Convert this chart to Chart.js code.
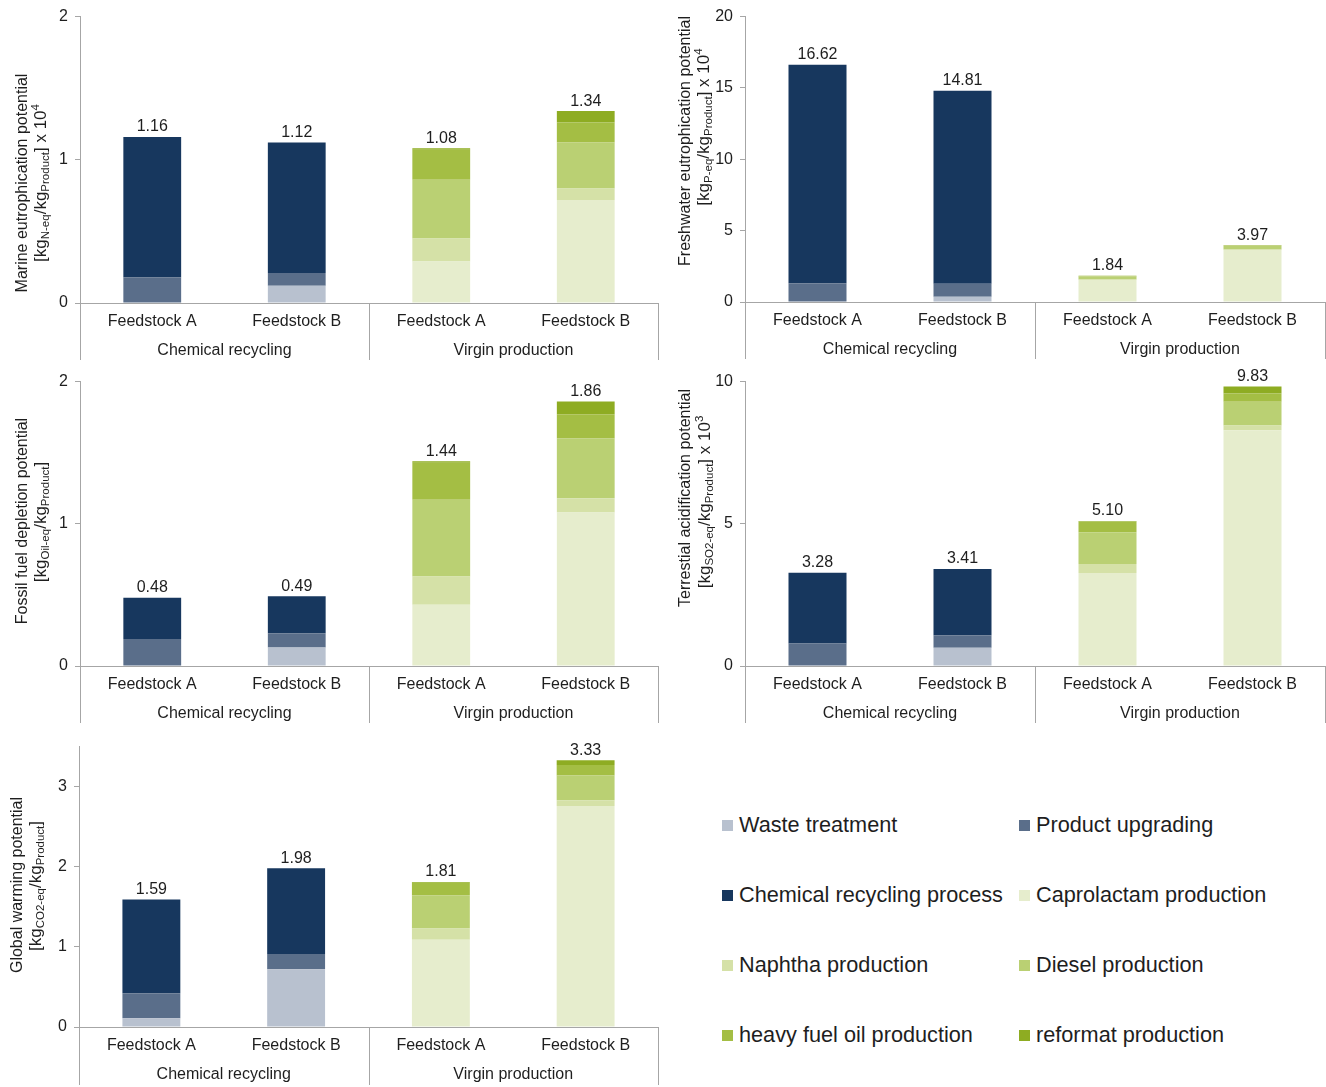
<!DOCTYPE html>
<html>
<head>
<meta charset="utf-8">
<script src="https://cdn.jsdelivr.net/npm/chart.js@4.4.1/dist/chart.umd.min.js"></script>
<style>
  body { margin: 0; background: #fff; width: 1326px; height: 1087px; position: relative; overflow: hidden;
         font-family: "Liberation Sans", Arial, sans-serif; }
  .panel { position: absolute; }
  .legend { position: absolute; left: 722px; top: 810px; display: grid;
            grid-template-columns: 297px 280px; grid-auto-rows: 70px; }
  .item { display: flex; align-items: center; height: 30px; font-size: 21.7px; color: #1e1e1e; white-space: nowrap; }
  .item i { display: inline-block; width: 11px; height: 11px; margin-right: 6px; }
</style>
</head>
<body>
<div class="panel" style="left:0;top:0;width:663px;height:365px"><canvas id="c1"></canvas></div>
<div class="panel" style="left:663px;top:0;width:663px;height:365px"><canvas id="c2"></canvas></div>
<div class="panel" style="left:0;top:365px;width:663px;height:365px"><canvas id="c3"></canvas></div>
<div class="panel" style="left:663px;top:365px;width:663px;height:365px"><canvas id="c4"></canvas></div>
<div class="panel" style="left:0;top:730px;width:663px;height:357px"><canvas id="c5"></canvas></div>
<div class="legend" id="legend"></div>

<script>
/* ---------- DATA ---------- */
const seriesNames = [
    "Waste treatment", "Product upgrading", "Chemical recycling process", "Caprolactam production",
    "Naphtha production", "Diesel production", "heavy fuel oil production", "reformat production"
];
const seriesColors = ["#b8c1cf", "#5a6e8a", "#17375e", "#e6edcd", "#d5e1a7", "#bad073", "#a4be44", "#8eac22"];

const barLabels = ["Feedstock A", "Feedstock B", "Feedstock A", "Feedstock B"];
const groupLabels = ["Chemical recycling", "Virgin production"];

// one row per series (order of seriesNames), one column per bar
const marineValues = [
    [0, 0.12, 0, 0],
    [0.18, 0.09, 0, 0],
    [0.98, 0.91, 0, 0],
    [0, 0, 0.29, 0.72],
    [0, 0, 0.16, 0.08],
    [0, 0, 0.41, 0.32],
    [0, 0, 0.21, 0.14],
    [0, 0, 0.01, 0.08]
];
const freshwaterValues = [
    [0, 0.37, 0, 0],
    [1.32, 0.91, 0, 0],
    [15.30, 13.53, 0, 0],
    [0, 0, 1.55, 3.64],
    [0, 0, 0.02, 0.04],
    [0, 0, 0.22, 0.24],
    [0, 0, 0.04, 0.04],
    [0, 0, 0.01, 0.01]
];
const fossilValues = [
    [0, 0.13, 0, 0],
    [0.19, 0.10, 0, 0],
    [0.29, 0.26, 0, 0],
    [0, 0, 0.43, 1.08],
    [0, 0, 0.20, 0.10],
    [0, 0, 0.54, 0.42],
    [0, 0, 0.26, 0.17],
    [0, 0, 0.01, 0.09]
];
const acidValues = [
    [0, 0.64, 0, 0],
    [0.79, 0.44, 0, 0],
    [2.49, 2.33, 0, 0],
    [0, 0, 3.27, 8.29],
    [0, 0, 0.32, 0.17],
    [0, 0, 1.11, 0.83],
    [0, 0, 0.38, 0.29],
    [0, 0, 0.02, 0.25]
];
const warmingValues = [
    [0.11, 0.72, 0, 0],
    [0.31, 0.19, 0, 0],
    [1.17, 1.07, 0, 0],
    [0, 0, 1.09, 2.76],
    [0, 0, 0.14, 0.07],
    [0, 0, 0.41, 0.31],
    [0, 0, 0.16, 0.13],
    [0, 0, 0.01, 0.06]
];

const FONT = '"Liberation Sans", Arial, sans-serif';
const TEXT = "#1e1e1e";
const AXIS = "#a6a6a6";

/* ---------- PANELS ---------- */
const panels = [
    { id: "c1", values: marineValues, max: 2, step: 1, axisW: 80, padTop: 14, padRight: 5, xH: 62, drop: 57,
      titleX: [21, 40], titleY: [183, 183],
      title: [[["Marine eutrophication potential", "n"]],
              [["[kg", "n"], ["N-eq", "sub"], ["/kg", "n"], ["Product", "sub"], ["] x 10", "n"], ["4", "sup"]]] },
    { id: "c2", values: freshwaterValues, max: 20, step: 5, axisW: 82, padTop: 15, padRight: 1, xH: 63, drop: 57,
      titleX: [21, 40], titleY: [141, 127],
      title: [[["Freshwater eutrophication potential", "n"]],
              [["[kg", "n"], ["P-eq", "sub"], ["/kg", "n"], ["Product", "sub"], ["] x 10", "n"], ["4", "sup"]]] },
    { id: "c3", values: fossilValues, max: 2, step: 1, axisW: 80, padTop: 15, padRight: 5, xH: 64, drop: 57,
      titleX: [21, 40], titleY: [156, 157],
      title: [[["Fossil fuel depletion potential", "n"]],
              [["[kg", "n"], ["Oil-eq", "sub"], ["/kg", "n"], ["Product", "sub"], ["]", "n"]]] },
    { id: "c4", values: acidValues, max: 10, step: 5, axisW: 82, padTop: 12, padRight: 1, xH: 64, drop: 57,
      titleX: [21, 41], titleY: [133, 137],
      title: [[["Terrestial acidification potential", "n"]],
              [["[kg", "n"], ["SO2-eq", "sub"], ["/kg", "n"], ["Product", "sub"], ["] x 10", "n"], ["3", "sup"]]] },
    { id: "c5", values: warmingValues, max: 3.5, step: 1, axisW: 79, padTop: 13, padRight: 5, xH: 60, drop: 58,
      titleX: [16, 35], titleY: [155, 156],
      title: [[["Global warming potential", "n"]],
              [["[kg", "n"], ["CO2-eq", "sub"], ["/kg", "n"], ["Product", "sub"], ["]", "n"]]] }
];

/* ---------- PLUGINS ---------- */
function partFont(li, mode) {
    if (li === 0) return "16px " + FONT;
    return (mode === "n" ? "17px " : "11.5px ") + FONT;
}

const yTitlePlugin = {
    id: "yTitle",
    afterDraw(chart, args, opts) {
        const ctx = chart.ctx;
        ctx.save();
        ctx.fillStyle = TEXT;
        ctx.textBaseline = "alphabetic";
        ctx.textAlign = "left";
        opts.lines.forEach((line, li) => {
            let w = 0;
            line.forEach(([t, m]) => {
                ctx.font = partFont(li, m);
                w += ctx.measureText(t).width;
            });
            ctx.save();
            ctx.translate(opts.x[li], opts.cy[li]);
            ctx.rotate(-Math.PI / 2);
            let x = -w / 2;
            line.forEach(([t, m]) => {
                ctx.font = partFont(li, m);
                const dy = m === "sub" ? 3 : m === "sup" ? -7 : 0;
                ctx.fillText(t, x, 6 + dy);
                x += ctx.measureText(t).width;
            });
            ctx.restore();
        });
        ctx.restore();
    }
};

const groupPlugin = {
    id: "groups",
    afterDraw(chart, args, opts) {
        const { ctx, chartArea, scales } = chart;
        const x = scales.x;
        const y0 = chartArea.bottom;
        const mid = (x.getPixelForValue(1) + x.getPixelForValue(2)) / 2;
        const edges = [chartArea.left, mid, chartArea.right];
        ctx.save();
        ctx.strokeStyle = AXIS;
        ctx.lineWidth = 1;
        edges.forEach(px => {
            const p = Math.round(px) + 0.5;
            ctx.beginPath();
            ctx.moveTo(p, y0);
            ctx.lineTo(p, y0 + opts.drop);
            ctx.stroke();
        });
        ctx.fillStyle = TEXT;
        ctx.font = "16px " + FONT;
        ctx.textAlign = "center";
        ctx.textBaseline = "middle";
        groupLabels.forEach((g, i) => {
            ctx.fillText(g, (edges[i] + edges[i + 1]) / 2, y0 + 48);
        });
        ctx.restore();
    }
};

const totalPlugin = {
    id: "totals",
    afterDatasetsDraw(chart) {
        const { ctx, scales } = chart;
        const ds = chart.data.datasets;
        ctx.save();
        ctx.fillStyle = TEXT;
        ctx.font = "16px " + FONT;
        ctx.textAlign = "center";
        ctx.textBaseline = "bottom";
        chart.data.labels.forEach((l, i) => {
            const sum = ds.reduce((a, d) => a + d.data[i], 0);
            const top = scales.y.getPixelForValue(sum);
            ctx.fillText(sum.toFixed(2), scales.x.getPixelForValue(i), top - 2);
        });
        ctx.restore();
    }
};

/* ---------- CHARTS ---------- */
panels.forEach(p => {
    new Chart(document.getElementById(p.id), {
        type: "bar",
        data: {
            labels: barLabels,
            datasets: seriesNames.map((name, si) => ({
                label: name,
                data: p.values[si],
                backgroundColor: seriesColors[si],
                borderWidth: 0,
                categoryPercentage: 1,
                barPercentage: 0.4
            }))
        },
        options: {
            responsive: true,
            maintainAspectRatio: false,
            animation: false,
            layout: { padding: { top: p.padTop, right: p.padRight, left: 0, bottom: 0 } },
            plugins: {
                legend: { display: false },
                tooltip: { enabled: false },
                yTitle: { lines: p.title, x: p.titleX, cy: p.titleY },
                groups: { drop: p.drop }
            },
            scales: {
                x: {
                    stacked: true,
                    grid: { display: false, drawTicks: false },
                    border: { display: true, color: AXIS, width: 1 },
                    ticks: { color: TEXT, font: { family: FONT, size: 16 }, padding: 9, maxRotation: 0 },
                    afterFit: s => { s.height = p.xH; }
                },
                y: {
                    stacked: true,
                    min: 0,
                    max: p.max,
                    grid: { drawOnChartArea: false, drawTicks: true, tickLength: 5, color: AXIS },
                    border: { display: true, color: AXIS, width: 1 },
                    ticks: { stepSize: p.step, includeBounds: false, color: TEXT,
                             font: { family: FONT, size: 16 }, padding: 7 },
                    afterFit: s => { s.width = p.axisW; }
                }
            }
        },
        plugins: [yTitlePlugin, groupPlugin, totalPlugin]
    });
});

/* ---------- LEGEND ---------- */
const legend = document.getElementById("legend");
seriesNames.forEach((name, i) => {
    const d = document.createElement("div");
    d.className = "item";
    d.innerHTML = `<i style="background:${seriesColors[i]}"></i><span></span>`;
    d.querySelector("span").textContent = name;
    legend.appendChild(d);
});
</script>
</body>
</html>
